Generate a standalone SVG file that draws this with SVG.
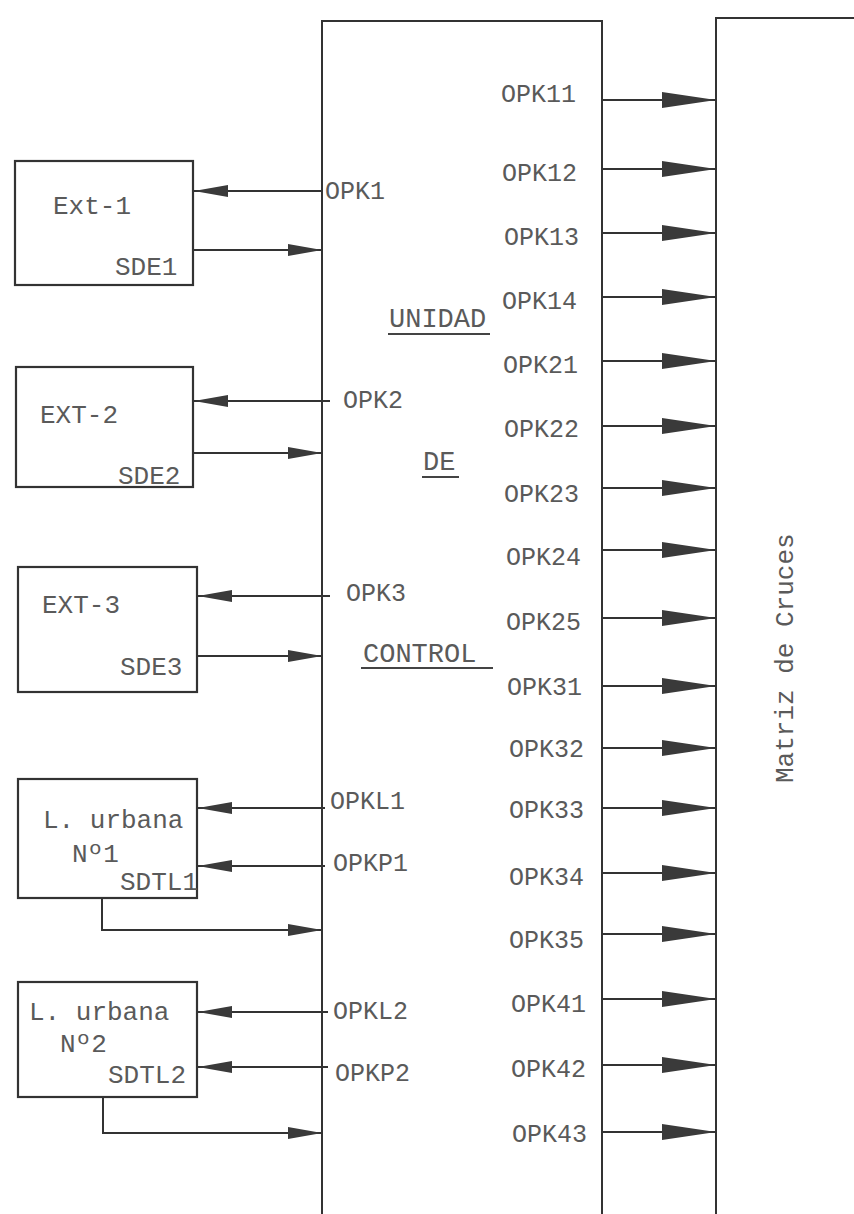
<svg xmlns="http://www.w3.org/2000/svg" width="854" height="1214" viewBox="0 0 854 1214">
<style>
.box{fill:#fff;stroke:#333;stroke-width:2.2}
.ln{fill:none;stroke:#333;stroke-width:2}
.t{font-family:"Liberation Mono",monospace;font-size:25px;fill:#5a5a5a}
.b{font-size:26px}
.c{font-size:27px}
.ul{stroke:#444;stroke-width:2}
</style>
<defs>
<marker id="ah" markerUnits="userSpaceOnUse" markerWidth="54" markerHeight="16" refX="54" refY="8" orient="auto">
<path d="M0,0 L54,8 L0,16 z" fill="#3a3a3a"/>
</marker>
<marker id="as" markerUnits="userSpaceOnUse" markerWidth="34" markerHeight="12" refX="34" refY="6" orient="auto">
<path d="M0,0 L34,6 L0,12 z" fill="#3a3a3a"/>
</marker>
</defs>
<rect width="854" height="1214" fill="#fff"/>

<g id="control">
<path class="ln" d="M322,1214 L322,21 L602,21 L602,1214" stroke-width="2.2"/>
<text class="t c" x="389" y="327">UNIDAD</text>
<line class="ul" x1="388" y1="334" x2="490" y2="334"/>
<text class="t c" x="423" y="470">DE</text>
<line class="ul" x1="422" y1="477" x2="459" y2="477"/>
<text class="t c" x="363" y="662">CONTROL</text>
<line class="ul" x1="361" y1="668" x2="493" y2="668"/>
<text class="t" x="325" y="199">OPK1</text>
<text class="t" x="343" y="408">OPK2</text>
<text class="t" x="346" y="601">OPK3</text>
<text class="t" x="330" y="809">OPKL1</text>
<text class="t" x="333" y="871">OPKP1</text>
<text class="t" x="333" y="1019">OPKL2</text>
<text class="t" x="335" y="1081">OPKP2</text>
<text class="t" x="501" y="102">OPK11</text>
<text class="t" x="502" y="181">OPK12</text>
<text class="t" x="504" y="245">OPK13</text>
<text class="t" x="502" y="309">OPK14</text>
<text class="t" x="503" y="373">OPK21</text>
<text class="t" x="504" y="437">OPK22</text>
<text class="t" x="504" y="502">OPK23</text>
<text class="t" x="506" y="565">OPK24</text>
<text class="t" x="506" y="630">OPK25</text>
<text class="t" x="507" y="695">OPK31</text>
<text class="t" x="509" y="757">OPK32</text>
<text class="t" x="509" y="818">OPK33</text>
<text class="t" x="509" y="885">OPK34</text>
<text class="t" x="509" y="948">OPK35</text>
<text class="t" x="511" y="1012">OPK41</text>
<text class="t" x="511" y="1077">OPK42</text>
<text class="t" x="512" y="1142">OPK43</text>
</g>

<g id="matriz">
<path class="ln" d="M716,1214 L716,18 L854,18" stroke-width="2.2"/>
<text class="t b" transform="translate(793,783) rotate(-90)">Matriz de Cruces</text>
</g>

<g id="ext1">
<rect class="box" x="15" y="161" width="178" height="124"/>
<text class="t b" x="53" y="214">Ext-1</text>
<text class="t b" x="115" y="275">SDE1</text>
</g>
<g id="ext2">
<rect class="box" x="16" y="367" width="177" height="120"/>
<text class="t b" x="40" y="423">EXT-2</text>
<text class="t b" x="118" y="484">SDE2</text>
</g>
<g id="ext3">
<rect class="box" x="18" y="567" width="179" height="125"/>
<text class="t b" x="42" y="613">EXT-3</text>
<text class="t b" x="120" y="675">SDE3</text>
</g>
<g id="lu1">
<rect class="box" x="18" y="779" width="179" height="119"/>
<text class="t b" x="43" y="828">L. urbana</text>
<text class="t b" x="72" y="862">Nº1</text>
<text class="t b" x="120" y="890">SDTL1</text>
</g>
<g id="lu2">
<rect class="box" x="18" y="982" width="179" height="115"/>
<text class="t b" x="29" y="1020">L. urbana</text>
<text class="t b" x="60" y="1052">Nº2</text>
<text class="t b" x="108" y="1083">SDTL2</text>
</g>

<g id="connectors">
<path class="ln" marker-end="url(#as)" d="M322,191 L194,191"/>
<path class="ln" marker-end="url(#as)" d="M193,250 L322,250"/>
<path class="ln" marker-end="url(#as)" d="M330,401 L194,401"/>
<path class="ln" marker-end="url(#as)" d="M193,453 L322,453"/>
<path class="ln" marker-end="url(#as)" d="M330,596 L198,596"/>
<path class="ln" marker-end="url(#as)" d="M197,656 L322,656"/>
<path class="ln" marker-end="url(#as)" d="M325,808 L198,808"/>
<path class="ln" marker-end="url(#as)" d="M325,866 L198,866"/>
<path class="ln" marker-end="url(#as)" d="M102,898 L102,930 L322,930"/>
<path class="ln" marker-end="url(#as)" d="M328,1012 L198,1012"/>
<path class="ln" marker-end="url(#as)" d="M328,1067 L198,1067"/>
<path class="ln" marker-end="url(#as)" d="M103,1097 L103,1133 L322,1133"/>
<path class="ln" marker-end="url(#ah)" d="M602,100 L716,100"/>
<path class="ln" marker-end="url(#ah)" d="M602,169 L716,169"/>
<path class="ln" marker-end="url(#ah)" d="M602,233 L716,233"/>
<path class="ln" marker-end="url(#ah)" d="M602,297 L716,297"/>
<path class="ln" marker-end="url(#ah)" d="M602,361 L716,361"/>
<path class="ln" marker-end="url(#ah)" d="M602,426 L716,426"/>
<path class="ln" marker-end="url(#ah)" d="M602,488 L716,488"/>
<path class="ln" marker-end="url(#ah)" d="M602,550 L716,550"/>
<path class="ln" marker-end="url(#ah)" d="M602,618 L716,618"/>
<path class="ln" marker-end="url(#ah)" d="M602,686 L716,686"/>
<path class="ln" marker-end="url(#ah)" d="M602,748 L716,748"/>
<path class="ln" marker-end="url(#ah)" d="M602,808 L716,808"/>
<path class="ln" marker-end="url(#ah)" d="M602,873 L716,873"/>
<path class="ln" marker-end="url(#ah)" d="M602,934 L716,934"/>
<path class="ln" marker-end="url(#ah)" d="M602,999 L716,999"/>
<path class="ln" marker-end="url(#ah)" d="M602,1065 L716,1065"/>
<path class="ln" marker-end="url(#ah)" d="M602,1132 L716,1132"/>
</g>
</svg>
